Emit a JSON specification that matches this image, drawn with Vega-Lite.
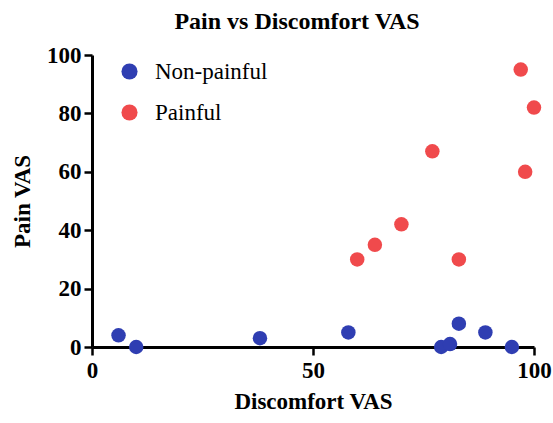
{
  "$schema": "https://vega.github.io/schema/vega-lite/v6.json",
  "width": 442,
  "height": 292,
  "autosize": {"type": "none"},
  "padding": {"left": 92, "top": 55, "right": 19, "bottom": 76},
  "background": "white",
  "title": {
    "text": "Pain vs Discomfort VAS",
    "font": "'Liberation Serif', 'Times New Roman', Times, serif",
    "fontSize": 24,
    "fontWeight": "bold",
    "color": "black",
    "anchor": "middle",
    "dx": -16,
    "offset": 10
  },
  "data": {
    "values": [
      {"discomfort": 6, "pain": 4, "group": "Non-painful"},
      {"discomfort": 10, "pain": 0, "group": "Non-painful"},
      {"discomfort": 38, "pain": 3, "group": "Non-painful"},
      {"discomfort": 58, "pain": 5, "group": "Non-painful"},
      {"discomfort": 79, "pain": 0, "group": "Non-painful"},
      {"discomfort": 81, "pain": 1, "group": "Non-painful"},
      {"discomfort": 83, "pain": 8, "group": "Non-painful"},
      {"discomfort": 89, "pain": 5, "group": "Non-painful"},
      {"discomfort": 95, "pain": 0, "group": "Non-painful"},
      {"discomfort": 97, "pain": 95, "group": "Painful"},
      {"discomfort": 100, "pain": 82, "group": "Painful"},
      {"discomfort": 98, "pain": 60, "group": "Painful"},
      {"discomfort": 77, "pain": 67, "group": "Painful"},
      {"discomfort": 70, "pain": 42, "group": "Painful"},
      {"discomfort": 64, "pain": 35, "group": "Painful"},
      {"discomfort": 60, "pain": 30, "group": "Painful"},
      {"discomfort": 83, "pain": 30, "group": "Painful"}
    ]
  },
  "mark": {"type": "circle", "size": 210, "opacity": 1},
  "encoding": {
    "x": {
      "field": "discomfort",
      "type": "quantitative",
      "scale": {"domain": [0, 100], "nice": false},
      "axis": {
        "title": "Discomfort VAS",
        "values": [0, 50, 100],
        "grid": false,
        "labelFlush": false,
        "labelOverlap": false,
        "domainColor": "black",
        "domainWidth": 3,
        "tickColor": "black",
        "tickWidth": 2.5,
        "tickSize": 8,
        "labelFont": "'Liberation Serif', 'Times New Roman', Times, serif",
        "labelFontSize": 23,
        "labelFontWeight": "bold",
        "labelColor": "black",
        "labelPadding": 4,
        "titleFont": "'Liberation Serif', 'Times New Roman', Times, serif",
        "titleFontSize": 23,
        "titleFontWeight": "bold",
        "titleColor": "black",
        "titlePadding": 8
      }
    },
    "y": {
      "field": "pain",
      "type": "quantitative",
      "scale": {"domain": [0, 100], "nice": false},
      "axis": {
        "title": "Pain VAS",
        "values": [0, 20, 40, 60, 80, 100],
        "grid": false,
        "labelFlush": false,
        "labelOverlap": false,
        "domainColor": "black",
        "domainWidth": 3,
        "tickColor": "black",
        "tickWidth": 2.5,
        "tickSize": 8,
        "labelFont": "'Liberation Serif', 'Times New Roman', Times, serif",
        "labelFontSize": 23,
        "labelFontWeight": "bold",
        "labelColor": "black",
        "labelPadding": 3,
        "titleFont": "'Liberation Serif', 'Times New Roman', Times, serif",
        "titleFontSize": 23,
        "titleFontWeight": "bold",
        "titleColor": "black",
        "titlePadding": 12
      }
    },
    "color": {
      "field": "group",
      "type": "nominal",
      "scale": {"domain": ["Non-painful", "Painful"], "range": ["#2f3eb2", "#f04a4c"]},
      "legend": {
        "title": null,
        "orient": "none",
        "legendX": 26,
        "legendY": 5,
        "symbolType": "circle",
        "symbolSize": 260,
        "symbolOpacity": 1,
        "symbolStrokeWidth": 0,
        "labelFont": "'Liberation Serif', 'Times New Roman', Times, serif",
        "labelFontSize": 23,
        "labelColor": "black",
        "labelOffset": 14,
        "rowPadding": 17
      }
    }
  },
  "config": {"view": {"stroke": null}}
}
